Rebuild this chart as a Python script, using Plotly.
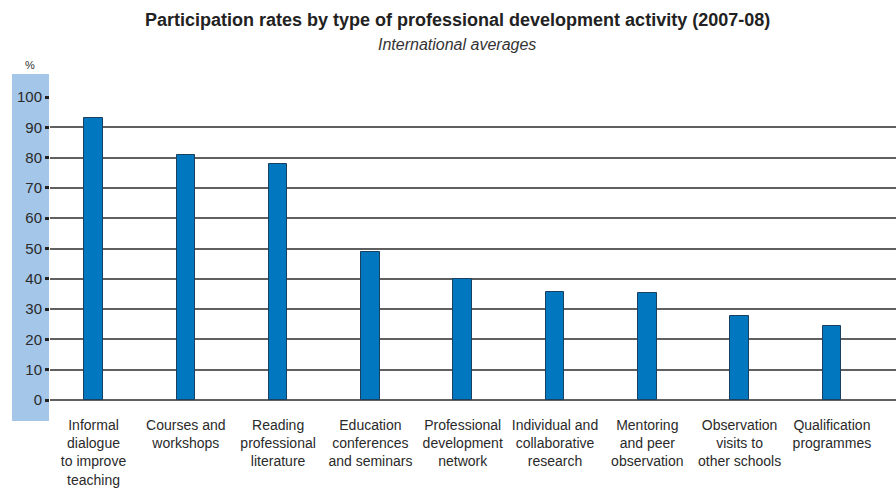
import plotly.graph_objects as go

# Activity categories (axis labels, wrapped) and international average participation (%)
categories = [
    "Informal<br>dialogue<br>to improve<br>teaching",
    "Courses and<br>workshops",
    "Reading<br>professional<br>literature",
    "Education<br>conferences<br>and seminars",
    "Professional<br>development<br>network",
    "Individual and<br>collaborative<br>research",
    "Mentoring<br>and peer<br>observation",
    "Observation<br>visits to<br>other schools",
    "Qualification<br>programmes",
]
rates = [93, 81, 78, 49, 40, 35.5, 35.2, 27.6, 24.3]
y_ticks = [0, 10, 20, 30, 40, 50, 60, 70, 80, 90, 100]

FONT = "Liberation Sans Narrow, Liberation Sans, Arial, sans-serif"
W, H = 896, 491
ML, MR, MT, MB = 50, 0, 97, 91
plot_w = W - ML - MR
plot_h = H - MT - MB


def px_x(px):
    return (px - ML) / plot_w


def px_y(py):
    return (H - MB - py) / plot_h


x_pos = list(range(len(categories)))

fig = go.Figure(
    go.Bar(
        x=x_pos,
        y=rates,
        width=0.2,
        marker=dict(color="#0077BE", line=dict(color="#1B3F5E", width=1)),
        hoverinfo="y",
    )
)

# Light-blue band behind the value axis
fig.add_shape(
    type="rect", xref="paper", yref="paper",
    x0=px_x(12), x1=px_x(49), y0=px_y(421), y1=px_y(74),
    fillcolor="#A4C6E8", line=dict(width=0), layer="below",
)

fig.add_annotation(
    text="%", xref="paper", yref="paper", x=px_x(30), y=px_y(65),
    xanchor="center", yanchor="middle", showarrow=False,
    font=dict(family=FONT, size=11, color="#333333"),
)

fig.add_annotation(
    text="<b>Participation rates by type of professional development activity (2007-08)</b>",
    xref="paper", yref="paper", x=px_x(457), y=px_y(20),
    xanchor="center", yanchor="middle", showarrow=False,
    font=dict(family=FONT, size=18, color="#222222"),
)
fig.add_annotation(
    text="<i>International averages</i>",
    xref="paper", yref="paper", x=px_x(457), y=px_y(45),
    xanchor="center", yanchor="middle", showarrow=False,
    font=dict(family=FONT, size=16, color="#333333"),
)

fig.update_layout(
    width=W, height=H,
    margin=dict(l=ML, r=MR, t=MT, b=MB, pad=0),
    paper_bgcolor="white", plot_bgcolor="white",
    showlegend=False,
    bargap=0,
    xaxis=dict(
        range=[(ML - 93.5) / 92.3, (W - 93.5) / 92.3],
        tickmode="array", tickvals=x_pos, ticktext=categories,
        showgrid=False, zeroline=False, showline=False, ticks="",
        ticklabelstandoff=15,
        tickfont=dict(family=FONT, size=14, color="#2A2A2A"),
        fixedrange=True,
    ),
    yaxis=dict(
        range=[0, 100],
        tickmode="array", tickvals=y_ticks,
        showgrid=True, gridcolor="#606060", gridwidth=1.5,
        zeroline=True, zerolinecolor="#606060", zerolinewidth=1.5,
        showline=False,
        ticks="outside", ticklen=4, tickwidth=3, tickcolor="#222222",
        tickfont=dict(family=FONT, size=15, color="#2A2A2A"),
        fixedrange=True,
    ),
)

fig.write_html("out.html")
